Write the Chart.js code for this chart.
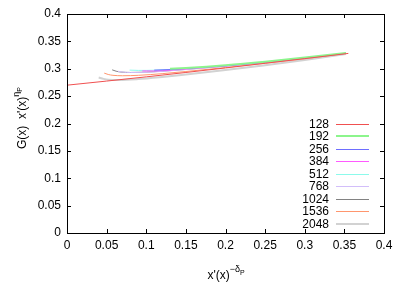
<!DOCTYPE html>
<html>
<head>
<meta charset="utf-8">
<script src="https://cdn.jsdelivr.net/npm/chart.js@4/dist/chart.umd.min.js"></script>
<style>
  html, body { margin: 0; padding: 0; background: #fff; }
  canvas { display: block; }
</style>
</head>
<body>
<canvas id="chart" width="407" height="285"></canvas>
<script>
const sizes = ["128", "192", "256", "384", "512", "768", "1024", "1536", "2048"];

const x128 = [0, 0.05, 0.1, 0.15, 0.2, 0.25, 0.3, 0.355];
const g128 = [0.270, 0.2775, 0.2852, 0.2932, 0.3015, 0.3100, 0.3185, 0.3280];

const x192 = [0.13, 0.15, 0.2, 0.25, 0.3, 0.352];
const g192 = [0.3000, 0.3015, 0.3065, 0.3130, 0.3205, 0.3290];

const x256 = [0.11, 0.13, 0.15, 0.2, 0.25, 0.3, 0.352];
const g256 = [0.2975, 0.2985, 0.3005, 0.3055, 0.3122, 0.3198, 0.3283];

const x384 = [0.095, 0.11, 0.13, 0.15, 0.2, 0.25, 0.3, 0.352];
const g384 = [0.2960, 0.2960, 0.2975, 0.2995, 0.3050, 0.3118, 0.3195, 0.3282];

const x512 = [0.079, 0.09, 0.1, 0.12, 0.15, 0.2, 0.25, 0.3, 0.352];
const g512 = [0.2975, 0.2970, 0.2970, 0.2980, 0.3005, 0.3058, 0.3125, 0.3200, 0.3285];

const x768 = [0.064, 0.07, 0.08, 0.1, 0.12, 0.15, 0.2, 0.25, 0.3, 0.352];
const g768 = [0.2955, 0.2940, 0.2932, 0.2935, 0.2952, 0.2985, 0.3045, 0.3115, 0.3193, 0.3282];

const x1024 = [0.057, 0.062, 0.068, 0.08, 0.1, 0.12, 0.15, 0.2, 0.25, 0.3, 0.352];
const g1024 = [0.2980, 0.2955, 0.2940, 0.2932, 0.2938, 0.2955, 0.2988, 0.3048, 0.3118, 0.3195, 0.3283];

const x1536 = [0.047, 0.052, 0.058, 0.07, 0.09, 0.12, 0.15, 0.2, 0.25, 0.3, 0.352];
const g1536 = [0.2920, 0.2895, 0.2880, 0.2872, 0.2880, 0.2910, 0.2950, 0.3022, 0.3100, 0.3183, 0.3278];

const x2048 = [0.040, 0.046, 0.052, 0.065, 0.09, 0.12, 0.15, 0.2, 0.25, 0.3, 0.352];
const g2048 = [0.2840, 0.2815, 0.2800, 0.2795, 0.2812, 0.2850, 0.2895, 0.2975, 0.3065, 0.3160, 0.3270];

const xTicks = [0, 0.05, 0.1, 0.15, 0.2, 0.25, 0.3, 0.35, 0.4];
const yTicks = [0, 0.05, 0.1, 0.15, 0.2, 0.25, 0.3, 0.35, 0.4];

const xs = [x128, x192, x256, x384, x512, x768, x1024, x1536, x2048];
const gs = [g128, g192, g256, g384, g512, g768, g1024, g1536, g2048];

const lineColors = [
  "rgb(240,80,80)", "rgb(140,245,140)", "rgb(110,110,255)",
  "rgb(255,90,255)", "rgb(140,250,235)", "rgb(210,190,250)",
  "rgb(130,130,130)", "rgb(255,150,110)", "rgb(210,210,210)"
];
const lineWidths = [1, 2, 1, 1, 1, 1, 1, 1, 2];

const FONT = "'Liberation Sans', Arial, sans-serif";
Chart.defaults.font.family = FONT;
Chart.defaults.font.size = 12;
Chart.defaults.color = "#000";

const datasets = sizes.map((s, i) => ({
  label: s,
  data: xs[i].map((x, j) => ({ x: x, y: gs[i][j] })),
  borderColor: lineColors[i],
  backgroundColor: lineColors[i],
  borderWidth: lineWidths[i],
  showLine: true,
  pointRadius: 0,
  cubicInterpolationMode: "monotone",
  fill: false
}));

// frame with inward ticks, legend and axis titles (gnuplot look)
const decor = {
  id: "decor",
  afterDraw(chart) {
    const ctx = chart.ctx;
    const a = chart.chartArea;
    const sx = chart.scales.x, sy = chart.scales.y;
    ctx.save();
    ctx.strokeStyle = "#000";
    ctx.lineWidth = 1;
    ctx.beginPath();
    xTicks.forEach(v => {
      const px = Math.round(sx.getPixelForValue(v)) + 0.5;
      ctx.moveTo(px, a.bottom); ctx.lineTo(px, a.bottom - 4);
      ctx.moveTo(px, a.top); ctx.lineTo(px, a.top + 4);
    });
    yTicks.forEach(v => {
      const py = Math.round(sy.getPixelForValue(v)) + 0.5;
      ctx.moveTo(a.left, py); ctx.lineTo(a.left + 4, py);
      ctx.moveTo(a.right, py); ctx.lineTo(a.right - 4, py);
    });
    ctx.stroke();
    ctx.strokeRect(Math.round(a.left) + 0.5, Math.round(a.top) + 0.5,
      Math.round(a.right - a.left), Math.round(a.bottom - a.top));

    // legend
    ctx.font = "12px " + FONT;
    ctx.textAlign = "right";
    ctx.textBaseline = "middle";
    chart.data.datasets.forEach((d, i) => {
      const y = 123.5 + i * 12.5;
      ctx.fillStyle = "#000";
      ctx.fillText(d.label, 329, y + 1);
      const yy = Math.round(y) + (d.borderWidth === 1 ? 0.5 : 0);
      ctx.strokeStyle = d.borderColor;
      ctx.lineWidth = d.borderWidth;
      ctx.beginPath();
      ctx.moveTo(336, yy);
      ctx.lineTo(369, yy);
      ctx.stroke();
    });

    // axis titles
    const drawTitle = (parts) => {
      let w = 0;
      parts.forEach(p => { ctx.font = p.size + "px " + FONT; w += ctx.measureText(p.t).width; });
      let x = -w / 2;
      ctx.textAlign = "left";
      ctx.textBaseline = "alphabetic";
      parts.forEach(p => {
        ctx.font = p.size + "px " + FONT;
        ctx.fillText(p.t, x, -p.rise);
        x += ctx.measureText(p.t).width;
      });
    };
    ctx.fillStyle = "#000";
    ctx.save();
    ctx.translate(226, 279);
    drawTitle([
      { t: "x'(x)", size: 12, rise: 0 },
      { t: "\u2212\u03b4", size: 9, rise: 7 },
      { t: "P", size: 7, rise: 4 }
    ]);
    ctx.restore();
    ctx.save();
    ctx.translate(26, 118);
    ctx.rotate(-Math.PI / 2);
    drawTitle([
      { t: "G(x)  x'(x)", size: 12, rise: 0 },
      { t: "\u03b7", size: 9, rise: 7 },
      { t: "P", size: 7, rise: 4 }
    ]);
    ctx.restore();
    ctx.restore();
  }
};

new Chart(document.getElementById("chart"), {
  type: "scatter",
  data: { datasets: datasets },
  options: {
    responsive: false,
    animation: false,
    layout: { padding: { top: 14, right: 23, left: 0, bottom: 0 } },
    plugins: { legend: { display: false }, tooltip: { enabled: false } },
    scales: {
      x: {
        type: "linear",
        min: 0, max: 0.4,
        afterFit(scale) { scale.height = 52; },
        afterBuildTicks(scale) { scale.ticks = xTicks.map(v => ({ value: v })); },
        grid: { display: false, drawTicks: false },
        border: { display: false },
        ticks: { padding: 5, maxRotation: 0, autoSkip: false, callback: v => String(v) }
      },
      y: {
        type: "linear",
        min: 0, max: 0.4,
        afterFit(scale) { scale.width = 67; },
        afterBuildTicks(scale) { scale.ticks = yTicks.map(v => ({ value: v })); },
        grid: { display: false, drawTicks: false },
        border: { display: false },
        ticks: { padding: 6, autoSkip: false, callback: v => String(v) }
      }
    }
  },
  plugins: [decor]
});
</script>
</body>
</html>
